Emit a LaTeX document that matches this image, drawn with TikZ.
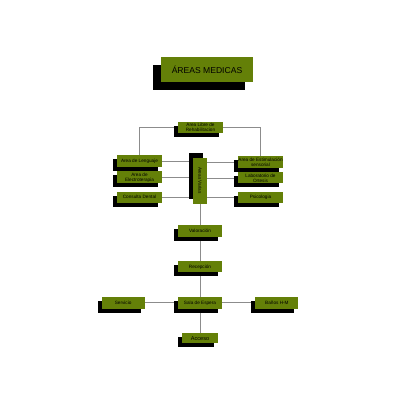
\documentclass[tikz,border=0pt]{standalone}
\usepackage{fontspec}
\setmainfont{Liberation Sans}
\usetikzlibrary{positioning, shadows, backgrounds}
\definecolor{areagreen}{RGB}{100,128,8}
\definecolor{linegray}{RGB}{140,140,140}

\begin{document}
\begin{tikzpicture}[x=1bp, y=-1bp, node distance=24bp,
  box/.style={fill=areagreen, inner sep=0pt, minimum width=45bp, minimum height=11bp, align=center, font=\fontsize{4.7}{5}\selectfont},
  shadowed/.style={drop shadow={shadow xshift=-#1, shadow yshift=-#1, fill=black, opacity=1}},
  shadowed/.default=4bp,
  link/.style={draw=linegray, line width=0.7bp}]
\useasboundingbox (0,0) rectangle (400,400);
\node[box, shadowed=8bp, minimum width=92bp, minimum height=25bp, font=\fontsize{8.6}{10}\selectfont] (title) at (207,69.5) {ÁREAS MEDICAS};
\node[box, shadowed] (libre) at (200.5,127.5) {Area Libre de\\Rehabilitacion};
\node[box, shadowed, minimum height=12bp] (lenguaje) at (139.5,161) {Area de Lenguaje};
\node[box, shadowed, minimum height=12bp, below=4bp of lenguaje] (electro) {Area de\\Electroterapia};
\node[box, shadowed, below=8bp of electro] (dental) {Consulta Dental};
\node[box, drop shadow={shadow xshift=-4bp, shadow yshift=5bp, fill=black, opacity=1}, rotate=-90, minimum width=46bp, minimum height=14bp] (varias) at (200,180.5) {Areas Varias};
\node[box, shadowed, minimum height=12bp] (estim) at (260.5,162) {Area de Estimulación\\sensorial};
\node[box, shadowed, below=4bp of estim] (ortesis) {Laboratorio de\\Ortesis};
\node[box, shadowed, below=8bp of ortesis] (psico) {Psicologia};
\node[box, shadowed, minimum width=44bp, minimum height=12bp] (valora) at (200,231) {Valoración};
\node[box, shadowed, minimum width=44bp, below=of valora] (recep) {Recepción};
\node[box, shadowed, minimum width=44bp, minimum height=12bp, below=of recep] (sala) {Sala de Espera};
\node[box, shadowed, minimum width=43bp, minimum height=12bp, left=33bp of sala] (servicio) {Servicio};
\node[box, shadowed, minimum width=43bp, minimum height=12bp, right=33bp of sala] (banos) {Baños H-M};
\node[box, shadowed, minimum width=36bp, minimum height=10bp, font=\fontsize{5.6}{6}\selectfont, below=of sala] (acceso) {Acceso};

\begin{scope}[on background layer]
\draw[link] (libre.west) -| (lenguaje.north);
\draw[link] (libre.east) -| (estim.north);
\draw[link] (lenguaje) -- (lenguaje -| varias);
\draw[link] (electro) -- (electro -| varias);
\draw[link] (dental) -- (dental -| varias);
\draw[link] (estim) -- (estim -| varias);
\draw[link] (ortesis) -- (ortesis -| varias);
\draw[link] (psico) -- (psico -| varias);
\draw[link] (varias) -- (valora) -- (recep) -- (sala) -- (acceso);
\draw[link] (servicio) -- (banos);
\end{scope}
\end{tikzpicture}
\end{document}
